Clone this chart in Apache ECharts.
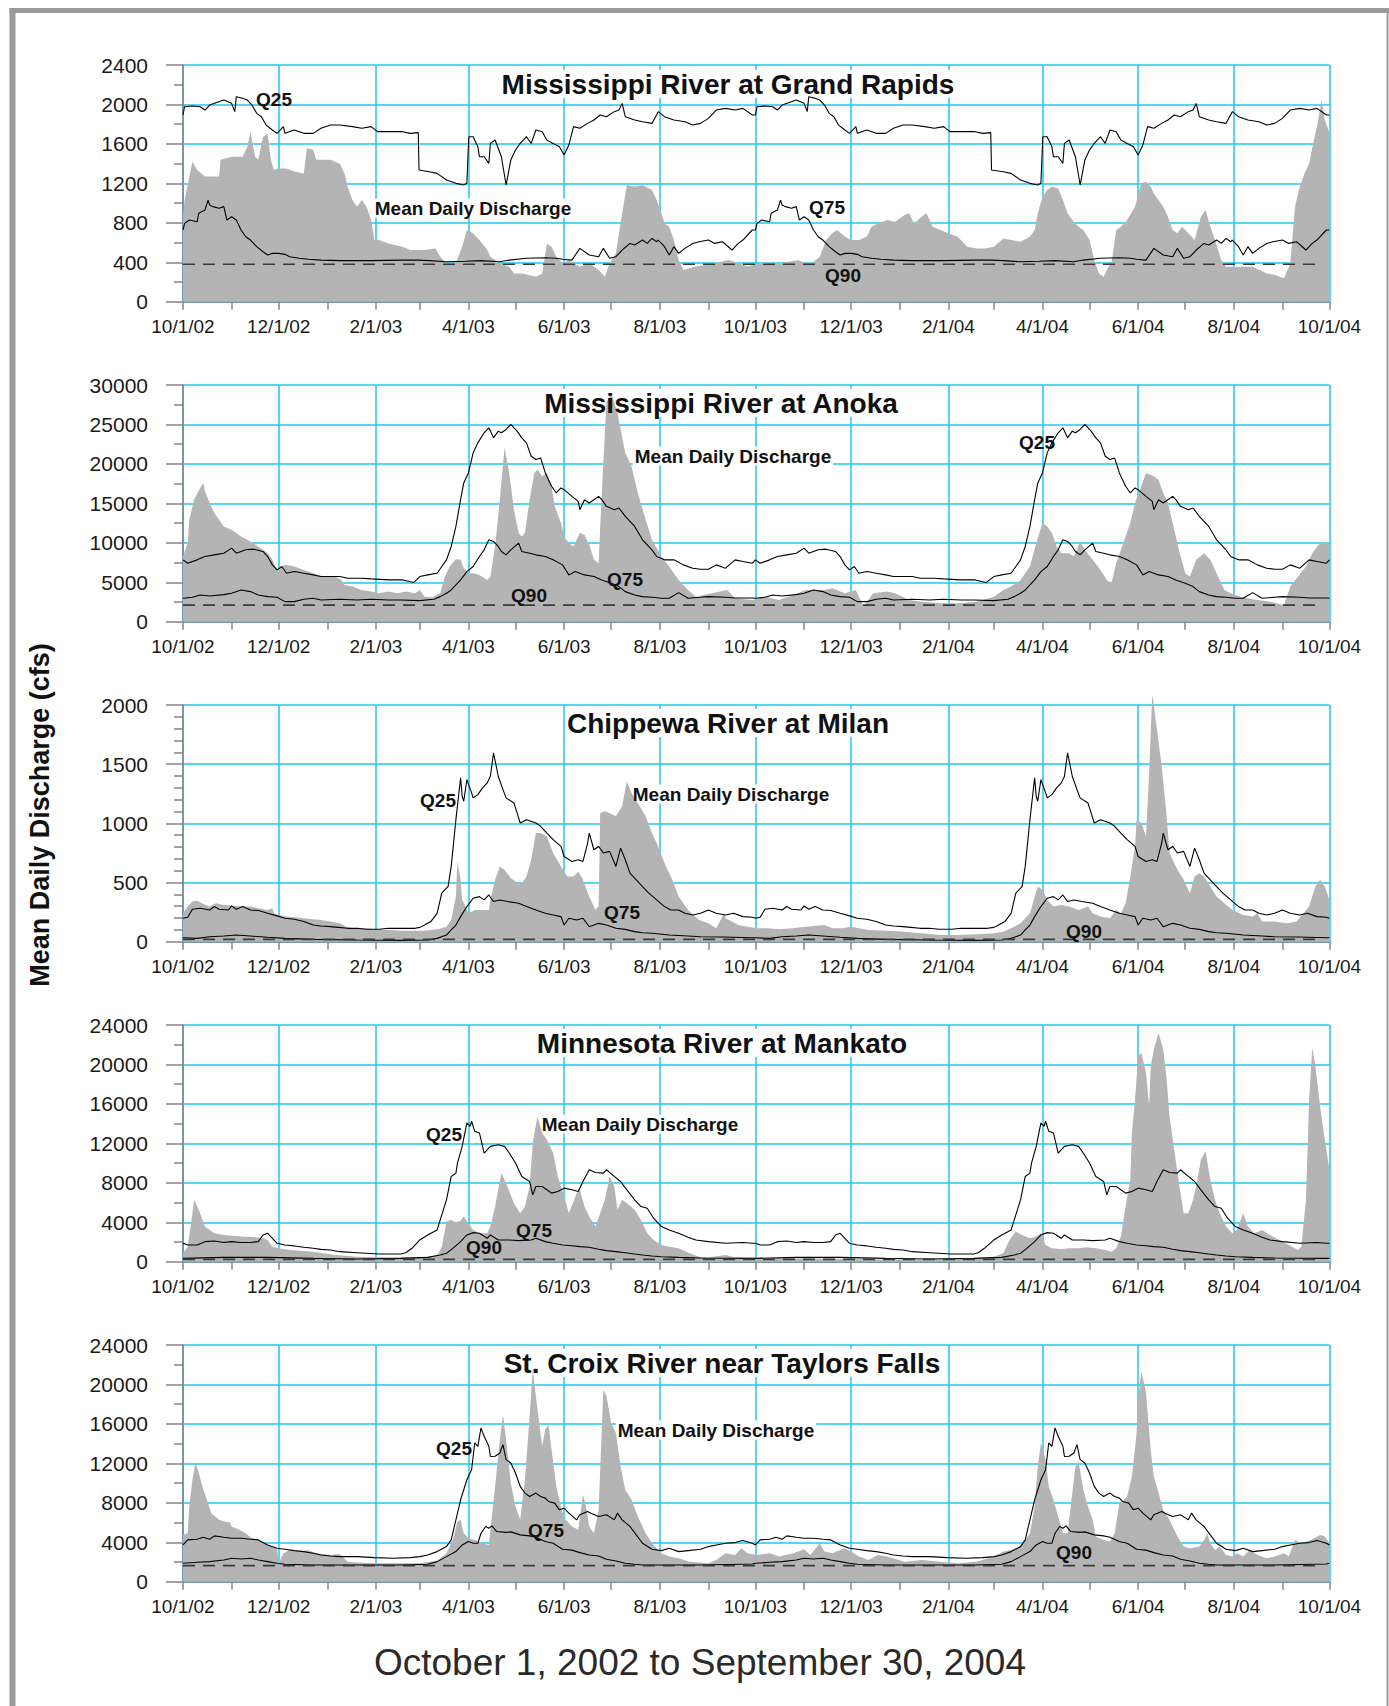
<!DOCTYPE html>
<html><head><meta charset="utf-8">
<script src="https://cdn.jsdelivr.net/npm/echarts@6/dist/echarts.min.js"></script>
<style>html,body{margin:0;padding:0;background:#fff;}#c{width:1389px;height:1706px;}</style>
</head><body><div id="c"></div>
<script>
// ---- x axis: day offsets from 10/1/02 ----
const MONTH_DAYS = [0,31,61,92,123,151,182,212,243,273,304,335,365,396,426,457,488,517,548,578,609,639,670,701,731];
const LABEL_DAYS = [0,61,123,182,243,304,365,426,488,548,609,670,731];
const TICK_LABELS = ['10/1/02','12/1/02','2/1/03','4/1/03','6/1/03','8/1/03','10/1/03','12/1/03','2/1/04','4/1/04','6/1/04','8/1/04','10/1/04'];

const TITLES = ['Mississippi River at Grand Rapids','Mississippi River at Anoka','Chippewa River at Milan','Minnesota River at Mankato','St. Croix River near Taylors Falls'];

// ---- Mississippi River at Grand Rapids ----
const GR_MEAN = [[0,860],[1,1030],[6,1420],[9,1335],[14,1270],[23,1270],[24,1440],[31,1470],[38,1470],[41,1570],[43,1720],[46,1470],[48,1440],[51,1670],[54,1700],[56,1440],[58,1335],[61,1350],[66,1350],[71,1320],[77,1300],[79,1555],[83,1540],[85,1440],[94,1440],[100,1400],[103,1300],[105,1166],[108,1030],[111,963],[114,1030],[117,963],[120,828],[122,625],[125,625],[131,590],[140,558],[145,524],[154,524],[161,540],[164,456],[168,389],[174,389],[178,558],[181,727],[185,693],[189,625],[194,524],[196,456],[202,389],[208,355],[211,287],[216,287],[225,254],[229,287],[232,591],[235,558],[238,456],[242,389],[246,420],[253,355],[259,389],[265,321],[269,254],[272,389],[276,490],[280,896],[283,1183],[288,1166],[293,1183],[299,1132],[302,1030],[305,896],[307,794],[310,760],[313,625],[316,422],[319,321],[325,350],[335,380],[348,422],[360,360],[372,400],[380,389],[392,420],[400,380],[406,456],[410,625],[414,693],[417,727],[422,660],[426,625],[431,625],[436,660],[439,760],[443,794],[449,828],[454,810],[460,879],[463,896],[466,794],[471,862],[474,896],[478,760],[483,727],[488,693],[494,659],[500,558],[506,540],[511,540],[517,558],[523,642],[528,625],[534,608],[540,659],[543,727],[545,896],[548,1065],[551,1132],[554,1166],[558,1150],[561,1030],[564,896],[567,828],[571,760],[574,727],[578,625],[581,422],[584,287],[587,254],[590,355],[592,389],[595,727],[598,760],[602,828],[607,963],[611,1200],[614,1217],[617,1166],[619,1098],[622,1030],[625,963],[628,862],[631,727],[634,693],[637,760],[641,693],[645,625],[649,862],[652,930],[655,760],[658,625],[662,422],[665,355],[674,355],[682,355],[691,287],[696,270],[702,237],[706,389],[709,963],[712,1166],[715,1300],[718,1400],[721,1640],[723,1775],[726,2045],[728,1842],[731,1707]];
const GR_Q25 = [[0,1893],[1,1977],[6,1984],[11,1977],[14,1943],[17,1994],[26,2045],[31,2011],[33,1927],[34,2079],[38,2062],[41,2045],[44,1994],[47,1910],[50,1876],[53,1791],[57,1741],[60,1707],[64,1775],[65,1707],[71,1741],[77,1707],[83,1707],[88,1758],[94,1791],[100,1791],[108,1775],[114,1758],[120,1775],[124,1724],[131,1724],[140,1724],[145,1707],[150,1714],[150.5,1335],[157,1318],[162,1301],[168,1234],[174,1200],[179,1183],[181,1200],[182.2,1673],[185,1673],[188,1572],[189,1470],[192,1470],[195,1403],[196,1605],[199,1639],[203,1470],[206,1183],[209,1436],[212,1538],[215,1605],[219,1673],[222,1605],[225,1741],[229,1724],[232,1639],[236,1605],[240,1572],[243,1487],[246,1588],[249,1775],[253,1758],[258,1808],[262,1842],[266,1893],[270,1876],[275,1927],[278,1943],[280,2011],[282,1876],[288,1842],[293,1825],[299,1808],[303,1927],[307,1876],[313,1842],[320,1825],[325,1791],[330,1808],[335,1859],[340,1943],[346,1960],[352,1943],[357,1960],[363,1893]];
const GR_Q75 = [[0,727],[1,794],[4,828],[9,810],[10,896],[14,930],[16,1030],[17,980],[19,964],[23,947],[26,964],[28,828],[31,862],[34,828],[37,727],[40,659],[43,625],[47,558],[51,507],[54,473],[57,490],[61,490],[65,480],[68,456],[74,440],[80,430],[88,422],[100,416],[120,416],[140,422],[150,422],[157,416],[168,405],[180,410],[190,416],[202,405],[208,422],[219,440],[231,446],[238,440],[242,430],[248,422],[253,541],[259,473],[265,456],[268,541],[272,440],[276,456],[280,524],[285,591],[288,575],[293,625],[296,591],[299,642],[302,608],[303,625],[307,558],[310,473],[313,558],[316,490],[320,541],[325,591],[329,608],[335,625],[339,591],[344,608],[350,524],[354,591],[357,625],[363,727]];
const GR_Q90 = 380;

// ---- Mississippi River at Anoka ----
const AN_MEAN = [[0,8262],[3,10000],[4,12923],[7,15465],[11,16948],[13,17583],[14,16524],[17,15042],[20,13770],[23,12923],[26,12075],[31,11652],[37,10804],[43,10169],[48,9533],[54,8686],[57,7838],[60,6567],[65,7203],[71,6991],[77,6567],[83,6144],[88,5720],[97,5720],[101,5296],[103,4661],[108,4449],[114,4025],[120,3813],[125,3601],[131,3813],[137,3601],[142,3813],[148,3601],[151,4025],[154,3178],[159,3093],[164,3601],[167,5720],[170,6991],[174,7923],[177,7838],[179,6779],[182,6144],[185,6144],[189,5932],[194,5296],[196,5720],[199,9533],[202,15465],[205,22032],[208,18855],[211,14194],[214,11228],[216,10804],[218,11228],[221,15465],[224,18855],[226,19279],[229,18431],[232,18855],[235,17160],[237,14618],[241,12499],[243,10804],[246,9957],[249,9533],[253,11228],[256,11016],[259,9745],[262,7838],[265,7415],[266,12075],[268,20125],[270,27752],[273,29024],[277,26481],[282,21397],[286,19702],[290,16312],[295,12923],[299,10381],[305,8262],[310,6991],[316,5296],[322,4025],[327,3178],[335,3500],[347,4025],[352,2966],[363,2754],[371,3178],[380,2754],[392,3601],[397,4025],[409,4025],[414,4237],[422,3601],[429,4025],[434,1907],[440,3601],[449,3813],[454,3601],[463,2754],[471,2542],[483,2330],[494,2330],[506,2542],[517,3178],[523,4025],[528,4449],[534,5296],[540,6991],[544,9957],[548,12499],[551,12075],[554,11228],[557,9533],[560,8686],[565,8686],[568,8262],[572,10169],[575,9110],[580,7838],[585,6567],[589,5296],[592,4873],[595,7415],[598,9110],[601,10804],[604,12499],[607,15042],[611,17160],[614,18855],[619,18431],[622,18000],[625,16312],[628,15042],[631,12499],[635,9110],[639,6144],[642,5720],[646,7838],[651,8686],[655,7838],[659,6144],[664,4025],[668,3601],[674,3178],[682,2838],[693,2542],[702,2118],[706,4449],[711,5720],[716,6991],[720,8686],[724,9745],[728,10169],[731,9745]];
const AN_Q25 = [[0,7838],[3,7415],[9,7838],[14,8262],[20,8474],[26,8686],[31,9321],[34,8686],[40,9110],[45,9194],[51,8898],[54,8262],[57,7203],[60,6567],[63,6991],[66,6144],[71,6355],[77,6144],[83,5932],[88,5720],[100,5720],[105,5508],[114,5508],[120,5424],[131,5296],[140,5296],[147,4957],[151,5720],[156,5932],[162,6144],[165,6991],[168,7838],[171,9533],[174,12075],[177,15465],[179,17583],[182,18855],[185,21397],[188,22668],[192,23939],[195,24575],[198,23304],[201,24151],[203,23939],[206,24363],[209,24999],[213,24151],[216,23304],[219,22668],[222,20973],[225,20549],[228,20761],[231,18855],[235,17160],[238,16312],[241,16948],[243,16736],[248,15889],[252,15253],[253,14194],[256,15465],[259,15042],[262,15465],[265,15889],[267,15465],[270,14618],[275,14194],[278,14406],[282,13346],[288,12075],[293,10381],[299,9110],[302,8262],[307,7838],[313,7838],[319,7203],[325,6779],[330,6652],[335,6652],[340,7203],[346,6779],[352,7838],[357,7626],[363,7415]];
const AN_Q75 = [[0,2966],[6,3093],[11,3390],[17,3263],[26,3432],[31,3601],[37,4025],[43,3813],[48,3390],[54,3178],[60,3093],[65,2542],[71,2542],[77,2838],[83,2966],[88,2754],[100,2838],[111,2754],[120,2838],[131,2754],[139,2754],[151,2670],[160,2838],[164,3178],[168,3601],[171,4025],[174,4661],[177,5296],[181,6355],[185,6991],[189,8262],[192,9110],[195,10381],[198,10169],[201,9533],[203,8898],[206,8474],[209,9110],[214,9957],[216,8898],[221,8686],[225,8474],[231,8262],[236,7838],[242,7203],[246,5932],[250,6355],[256,5932],[262,5720],[267,5296],[273,4873],[278,4449],[282,3813],[288,3390],[293,3178],[299,3093],[305,2966],[310,2966],[316,3686],[322,2966],[330,3093],[335,3178],[346,3093],[352,3008],[363,3008]];
const AN_Q90 = 2100;

// ---- Chippewa River at Milan ----
const CH_MEAN = [[0,240],[3,297],[6,339],[9,347],[13,319],[17,297],[21,325],[26,311],[31,305],[37,297],[43,297],[48,283],[54,268],[57,283],[58,240],[61,226],[66,212],[71,206],[77,198],[83,190],[88,184],[94,170],[100,155],[104,127],[108,113],[117,113],[122,105],[131,99],[140,93],[154,93],[158,99],[162,105],[165,113],[168,127],[171,184],[174,381],[175,678],[177,523],[178,353],[179,330],[182,240],[186,268],[191,268],[195,268],[196,353],[199,523],[202,636],[205,608],[209,537],[214,494],[216,494],[219,551],[222,692],[225,918],[228,918],[232,890],[236,749],[241,636],[245,551],[249,551],[252,593],[255,523],[259,381],[263,268],[265,300],[266,1088],[269,1102],[272,1088],[276,1059],[280,1144],[283,1356],[286,1257],[290,1172],[295,1059],[299,918],[303,805],[307,664],[312,523],[316,381],[322,268],[329,184],[335,155],[340,113],[345,240],[346,198],[350,170],[354,141],[360,127],[366,113],[373,113],[380,105],[389,113],[397,127],[409,141],[414,113],[420,113],[426,127],[431,113],[437,99],[449,93],[460,85],[471,71],[483,56],[494,56],[506,62],[517,71],[523,85],[528,113],[534,155],[540,240],[545,466],[548,438],[551,353],[555,297],[560,310],[565,297],[571,268],[577,297],[580,240],[585,212],[591,198],[595,268],[598,240],[601,325],[604,551],[607,805],[608,1031],[611,1003],[614,890],[616,1427],[618,2091],[621,1794],[624,1483],[627,1088],[629,749],[634,607],[638,523],[642,410],[645,551],[648,579],[651,551],[655,466],[659,381],[664,325],[669,268],[676,226],[682,212],[685,240],[688,170],[696,170],[704,155],[710,170],[718,297],[722,466],[725,523],[728,466],[731,353]];
const CH_Q25 = [[0,198],[3,206],[6,274],[11,283],[17,268],[20,297],[23,274],[29,268],[31,302],[34,274],[38,297],[43,268],[48,263],[54,240],[60,218],[65,198],[71,190],[77,170],[83,141],[88,133],[94,127],[99,121],[105,113],[111,113],[117,105],[125,105],[131,113],[140,113],[148,113],[151,121],[154,141],[158,170],[162,240],[165,410],[168,452],[169,466],[171,636],[174,1031],[177,1384],[178,1229],[179,1187],[181,1370],[184,1257],[185,1215],[188,1243],[191,1300],[194,1342],[196,1398],[198,1596],[201,1398],[204,1285],[206,1215],[211,1172],[213,1088],[215,1003],[219,1031],[225,1003],[228,975],[232,918],[236,862],[241,805],[243,720],[248,678],[252,692],[255,678],[258,833],[259,918],[262,777],[265,805],[268,749],[272,763],[276,636],[279,791],[282,692],[285,579],[289,523],[293,466],[297,410],[302,353],[307,297],[311,268],[316,268],[320,240],[325,226],[330,240],[335,268],[340,240],[346,226],[351,240],[357,212],[363,206]];
const CH_Q75 = [[0,34],[9,28],[17,42],[26,48],[34,56],[43,48],[54,37],[65,28],[83,20],[111,14],[139,11],[156,14],[162,28],[168,56],[171,99],[174,141],[177,212],[181,297],[185,367],[189,381],[192,353],[195,395],[198,339],[202,353],[207,339],[214,325],[219,297],[225,268],[231,240],[236,226],[241,212],[243,141],[246,198],[251,184],[255,198],[259,127],[265,155],[270,141],[276,113],[282,104],[288,85],[293,76],[299,71],[304,65],[310,56],[322,48],[330,42],[345,40],[363,34]];
const CH_Q90 = 20;

// ---- Minnesota River at Mankato ----
const MN_MEAN = [[0,848],[3,1526],[6,4916],[7,6272],[10,5255],[14,3560],[20,2882],[26,2712],[37,2543],[46,2480],[51,2373],[54,2204],[57,1526],[61,1356],[68,1187],[83,1017],[97,678],[111,509],[125,441],[140,441],[154,509],[162,576],[165,1526],[168,4068],[171,4238],[174,3966],[177,4153],[179,4577],[182,3899],[185,3221],[189,2882],[194,2882],[196,3560],[199,5594],[203,8984],[206,7967],[211,5933],[215,4916],[218,5594],[221,7628],[223,12035],[226,14747],[229,13052],[232,12374],[236,11018],[239,8645],[243,6611],[246,4916],[251,6950],[253,7289],[256,5594],[259,4577],[263,3560],[266,4916],[269,6272],[272,8645],[275,7628],[277,5255],[280,6272],[283,5933],[288,5255],[292,4238],[296,2882],[300,2204],[305,1695],[310,1526],[316,1356],[323,848],[329,509],[335,441],[346,678],[352,441],[380,339],[409,305],[437,237],[466,170],[494,237],[517,509],[523,848],[527,2204],[531,3051],[535,2712],[540,2373],[544,2543],[547,2882],[550,1695],[554,1356],[560,1254],[565,1356],[571,1356],[576,1458],[582,1356],[588,1187],[592,1017],[595,1356],[598,2543],[601,5594],[604,8306],[605,13052],[607,16442],[609,20849],[611,21188],[614,19154],[616,15764],[617,19832],[619,21527],[622,23222],[625,21527],[627,18815],[629,14747],[632,11357],[635,7967],[638,4916],[641,4916],[644,6272],[646,7628],[649,10340],[652,11187],[655,8306],[658,6272],[661,4916],[665,3560],[669,2882],[672,3221],[676,4916],[679,3560],[683,2882],[688,3221],[693,2712],[699,2204],[705,1695],[711,1187],[713,1526],[716,6272],[718,16442],[720,21696],[722,19832],[725,15764],[728,12374],[731,9323]];
const MN_Q25 = [[0,1865],[3,1695],[9,1695],[14,2034],[20,2100],[26,1950],[31,2034],[37,1950],[43,1950],[48,2034],[51,2712],[54,2882],[57,2373],[60,1865],[65,1695],[71,1600],[77,1458],[83,1356],[88,1254],[94,1187],[100,1017],[111,915],[125,780],[139,780],[142,915],[146,1356],[151,2204],[156,2712],[162,3221],[165,4746],[168,6272],[171,8645],[174,8984],[175,10000],[178,11696],[181,14069],[183,13730],[184,14238],[186,13221],[189,13050],[192,11018],[196,11696],[201,11865],[205,11696],[208,11018],[212,10000],[216,8645],[221,8136],[223,6780],[225,7628],[229,7628],[232,7289],[235,6950],[239,7119],[243,7458],[248,7289],[252,7119],[255,8136],[259,9323],[263,9050],[268,8984],[270,9323],[275,8645],[279,8136],[283,7289],[288,6272],[292,5594],[296,5424],[300,4407],[305,3560],[310,3221],[316,2882],[322,2475],[327,2204],[335,2034],[346,1865],[357,1950],[363,1865]];
const MN_Q75 = [[0,339],[26,441],[54,441],[83,339],[111,271],[139,339],[156,441],[164,678],[168,848],[172,1356],[177,2034],[181,2712],[185,2949],[189,2882],[194,2373],[196,2712],[201,2204],[208,2204],[214,2136],[222,2204],[225,2373],[231,2034],[236,1865],[242,1695],[248,1610],[253,1526],[259,1458],[265,1254],[270,1119],[276,1017],[282,915],[288,780],[293,678],[299,576],[305,509],[316,441],[330,373],[363,339]];
const MN_Q90 = 240;

// ---- St. Croix River near Taylors Falls ----
const SC_MEAN = [[0,4746],[3,4916],[4,7628],[6,10340],[8,12136],[10,11018],[13,9323],[16,7967],[18,6950],[23,6272],[26,6102],[30,6000],[31,5594],[36,5255],[40,4916],[43,4509],[48,4238],[54,3729],[60,3390],[61,1865],[64,2882],[68,3221],[74,3051],[80,3200],[85,2882],[94,2712],[100,2800],[105,2034],[111,1950],[122,1865],[151,1865],[162,2136],[168,2882],[172,4238],[175,6102],[177,6272],[179,4916],[182,4407],[186,4238],[191,3899],[195,3729],[196,5255],[199,9662],[202,14408],[204,16950],[206,14408],[209,10001],[212,7628],[215,6272],[218,10340],[221,16781],[223,21527],[226,17459],[229,13730],[231,15425],[233,15933],[235,13391],[238,9662],[241,7628],[243,6441],[248,5594],[252,5255],[255,8814],[257,7628],[259,5594],[262,4916],[265,7289],[268,19493],[270,18815],[273,16103],[276,15086],[279,11696],[282,9323],[286,8306],[290,6611],[295,4916],[299,3899],[305,2882],[310,2543],[316,2373],[323,2034],[335,1865],[340,2204],[346,2882],[352,2712],[356,3390],[360,2882],[366,2712],[374,2882],[380,2543],[389,2882],[396,3288],[400,2712],[406,3899],[409,3051],[414,2882],[422,3390],[426,3051],[431,2543],[437,2204],[443,2712],[449,2543],[460,2034],[471,2204],[483,2034],[494,1865],[506,2034],[517,2543],[523,3051],[528,3221],[534,3560],[540,4916],[543,7628],[545,11696],[547,14069],[550,12374],[552,9662],[555,8306],[558,6611],[561,4916],[564,4916],[567,8984],[569,11696],[571,12204],[574,9323],[577,7628],[580,6272],[582,4577],[587,4238],[591,4068],[594,4916],[597,7967],[600,8306],[602,8645],[605,10679],[608,15086],[609,18476],[611,21357],[614,19154],[617,13391],[619,10679],[622,8984],[625,7289],[629,6272],[634,4577],[638,3560],[642,3390],[648,3560],[651,4238],[653,4916],[655,3899],[658,3221],[661,3560],[665,2712],[669,2543],[672,2882],[676,2543],[680,3221],[685,2711],[691,2373],[696,2543],[702,2882],[705,2543],[709,4238],[713,3899],[719,4238],[725,4746],[728,4577],[731,3899]];
const SC_Q25 = [[0,3729],[3,4238],[9,4305],[13,4509],[17,4305],[20,4644],[26,4509],[31,4407],[37,4407],[43,4305],[48,4238],[54,3729],[60,3390],[65,3288],[71,3153],[77,3051],[83,2882],[88,2712],[94,2611],[100,2543],[111,2543],[122,2441],[134,2373],[145,2441],[151,2543],[156,2712],[162,3051],[168,3560],[171,4238],[174,6272],[177,8306],[181,10340],[184,11357],[186,14069],[188,13730],[190,15594],[192,14747],[195,13730],[196,12700],[199,12713],[202,13052],[204,13899],[206,12374],[209,12035],[212,11018],[215,9662],[218,8984],[221,8645],[225,8984],[228,8645],[231,8475],[233,8136],[237,7967],[240,7289],[243,7458],[246,6950],[251,6272],[253,6780],[258,7119],[260,6950],[265,6611],[270,6780],[275,6272],[277,6950],[280,6272],[285,5594],[289,4746],[293,3899],[299,3288],[305,3153],[310,3390],[316,3051],[322,3153],[330,3288],[335,3560],[340,3729],[346,3899],[352,3966],[357,4170],[363,3900]];
const SC_Q75 = [[0,1865],[9,1966],[17,2034],[26,2204],[31,2373],[37,2300],[43,2373],[48,2204],[54,2034],[60,1865],[65,1763],[83,1695],[140,1695],[156,1763],[162,2034],[168,2543],[174,3051],[178,3729],[182,4068],[185,3900],[188,3899],[190,4916],[193,5594],[195,5424],[197,5661],[200,5085],[206,5000],[209,5050],[215,4746],[221,4650],[225,4509],[231,4068],[236,3899],[242,3288],[248,3200],[253,2949],[259,2712],[265,2600],[270,2271],[276,2102],[282,1865],[288,1763],[293,1695],[330,1695],[363,1800]];
const SC_Q90 = 1630;

// y-axis scales per panel
const Y_MAX = [2400, 30000, 2000, 24000, 24000];
const Y_STEP = [400, 5000, 500, 4000, 4000];
const Y_MINOR = [2, 2, 5, 2, 2];

const MEANS = [GR_MEAN, AN_MEAN, CH_MEAN, MN_MEAN, SC_MEAN];
const Q25S = [GR_Q25, AN_Q25, CH_Q25, MN_Q25, SC_Q25];
const Q75S = [GR_Q75, AN_Q75, CH_Q75, MN_Q75, SC_Q75];
const Q90S = [GR_Q90, AN_Q90, CH_Q90, MN_Q90, SC_Q90];

// ---- layout (pixels) ----
const GRID_LEFT = 183, GRID_W = 1146.5, GRID_TOP0 = 65, GRID_H = 236.7, GRID_GAP = 320;
const TITLE_POS = [[728,84],[721,403],[728,723],[722,1043],[722,1363]];
const NOTES = [
  ['Q25',274,99],['Mean Daily Discharge',473,208],['Q75',827,207],['Q90',843,275],
  ['Mean Daily Discharge',733,456],['Q25',1037,442],['Q75',625,579],['Q90',529,595],
  ['Q25',438,800],['Mean Daily Discharge',731,794],['Q75',622,912],['Q90',1084,931],
  ['Q25',444,1134],['Mean Daily Discharge',640,1124],['Q75',534,1230],['Q90',484,1247],
  ['Q25',454,1448],['Mean Daily Discharge',716,1430],['Q75',546,1530],['Q90',1074,1552]
];

// daily statistic for a water year repeated for the second water year
function twoYears(arr) {
  const y2 = arr.map(p => [p[0] + (p[0] >= 151 ? 366 : 365), p[1]]);
  return arr.concat(y2, [[731, arr[0][1]]]);
}

const FONT = "'Liberation Sans', Arial, Helvetica, sans-serif";
const CYAN = '#1ec8f5';
const AXIS_GRAY = '#858585';
const FILL = '#b4b4b4';

const grids = [], xAxes = [], yAxes = [], series = [];
for (let i = 0; i < 5; i++) {
  grids.push({left: GRID_LEFT, width: GRID_W, top: GRID_TOP0 + GRID_GAP * i, height: GRID_H});
  xAxes.push({
    type: 'value', gridIndex: i, min: 0, max: 731, position: 'bottom',
    axisLine: {show: true, onZero: false, lineStyle: {color: AXIS_GRAY, width: 1.5}},
    axisTick: {show: true, customValues: MONTH_DAYS, length: 8, lineStyle: {color: AXIS_GRAY, width: 1.5}},
    axisLabel: {show: true, customValues: LABEL_DAYS, margin: 15, fontSize: 19, color: '#1a1a1a', fontFamily: FONT,
      formatter: v => TICK_LABELS[LABEL_DAYS.indexOf(Math.round(v))] || ''},
    splitLine: {show: false}
  });
  xAxes.push({
    type: 'value', gridIndex: i, min: 0, max: 731, position: 'top',
    axisLine: {show: false}, axisLabel: {show: false},
    axisTick: {show: false, customValues: LABEL_DAYS},
    splitLine: {show: true, lineStyle: {color: CYAN, width: 1.5}}
  });
  yAxes.push({
    type: 'value', gridIndex: i, min: 0, max: Y_MAX[i], interval: Y_STEP[i],
    axisLine: {show: true, onZero: false, lineStyle: {color: AXIS_GRAY, width: 1.5}},
    axisTick: {show: true, length: 17, lineStyle: {color: AXIS_GRAY, width: 1.5}},
    minorTick: {show: true, splitNumber: Y_MINOR[i], length: 9, lineStyle: {color: AXIS_GRAY, width: 1.5}},
    axisLabel: {margin: 35, fontSize: 21, color: '#1a1a1a', fontFamily: FONT, formatter: v => String(v)},
    splitLine: {show: true, lineStyle: {color: CYAN, width: 1.5}}
  });
  series.push({
    type: 'line', name: 'Mean Daily Discharge', xAxisIndex: 2 * i, yAxisIndex: i, data: MEANS[i],
    showSymbol: false, symbol: 'none', clip: false, z: 2,
    lineStyle: {width: 0, opacity: 0}, areaStyle: {color: FILL, opacity: 1}, silent: true
  });
  series.push({
    type: 'line', name: 'Q25', xAxisIndex: 2 * i, yAxisIndex: i, data: twoYears(Q25S[i]),
    showSymbol: false, symbol: 'none', z: 3, lineStyle: {color: '#000', width: 1.1}, silent: true
  });
  series.push({
    type: 'line', name: 'Q75', xAxisIndex: 2 * i, yAxisIndex: i, data: twoYears(Q75S[i]),
    showSymbol: false, symbol: 'none', z: 3, lineStyle: {color: '#000', width: 1.1}, silent: true
  });
  series.push({
    type: 'line', name: 'Q90', xAxisIndex: 2 * i, yAxisIndex: i, data: [[0, Q90S[i]], [726, Q90S[i]]],
    showSymbol: false, symbol: 'none', z: 3, lineStyle: {color: '#3a3a3a', width: 1.6, type: [12, 8]}, silent: true
  });
}

const graphics = [];
graphics.push({type: 'line', shape: {x1: 12.5, y1: 8, x2: 12.5, y2: 1706}, style: {stroke: '#9a9a9c', lineWidth: 6}, z: 100});
graphics.push({type: 'line', shape: {x1: 9.5, y1: 10.5, x2: 1389, y2: 10.5}, style: {stroke: '#9a9a9c', lineWidth: 5}, z: 100});
graphics.push({type: 'line', shape: {x1: 1387.5, y1: 8, x2: 1387.5, y2: 1706}, style: {stroke: '#9a9a9c', lineWidth: 2}, z: 100});
// white boxes behind labels: above the grid lines, below the data
function boxedText(text, x, y, font) {
  graphics.push({type: 'text', x: x, y: y, z: 1, silent: true,
    style: {text: text, font: font, fill: 'rgba(255,255,255,0)', align: 'center', verticalAlign: 'middle', backgroundColor: '#fff', padding: [0, 2]}});
  graphics.push({type: 'text', x: x, y: y, z: 50,
    style: {text: text, font: font, fill: '#111', align: 'center', verticalAlign: 'middle'}});
}
TITLES.forEach((t, i) => boxedText(t, TITLE_POS[i][0], TITLE_POS[i][1], "bold 28px " + FONT));
NOTES.forEach(n => {
  if (n[0] === 'Mean Daily Discharge') boxedText(n[0], n[1], n[2], "bold 19px " + FONT);
  else graphics.push({type: 'text', x: n[1], y: n[2], z: 50,
    style: {text: n[0], font: "bold 19px " + FONT, fill: '#111', align: 'center', verticalAlign: 'middle'}});
});
graphics.push({type: 'text', x: 40, y: 815, rotation: Math.PI / 2, z: 50,
  style: {text: 'Mean Daily Discharge (cfs)', font: "bold 27px " + FONT, fill: '#111', align: 'center', verticalAlign: 'middle'}});
graphics.push({type: 'text', x: 700, y: 1662, z: 50,
  style: {text: 'October 1, 2002 to September 30, 2004', font: "37px " + FONT, fill: '#2a2a2a', align: 'center', verticalAlign: 'middle'}});

const chart = echarts.init(document.getElementById('c'), null, {renderer: 'svg', width: 1389, height: 1706});
chart.setOption({
  animation: false,
  backgroundColor: '#fff',
  textStyle: {fontFamily: FONT},
  grid: grids, xAxis: xAxes, yAxis: yAxes, series: series,
  graphic: graphics
});
</script></body></html>
